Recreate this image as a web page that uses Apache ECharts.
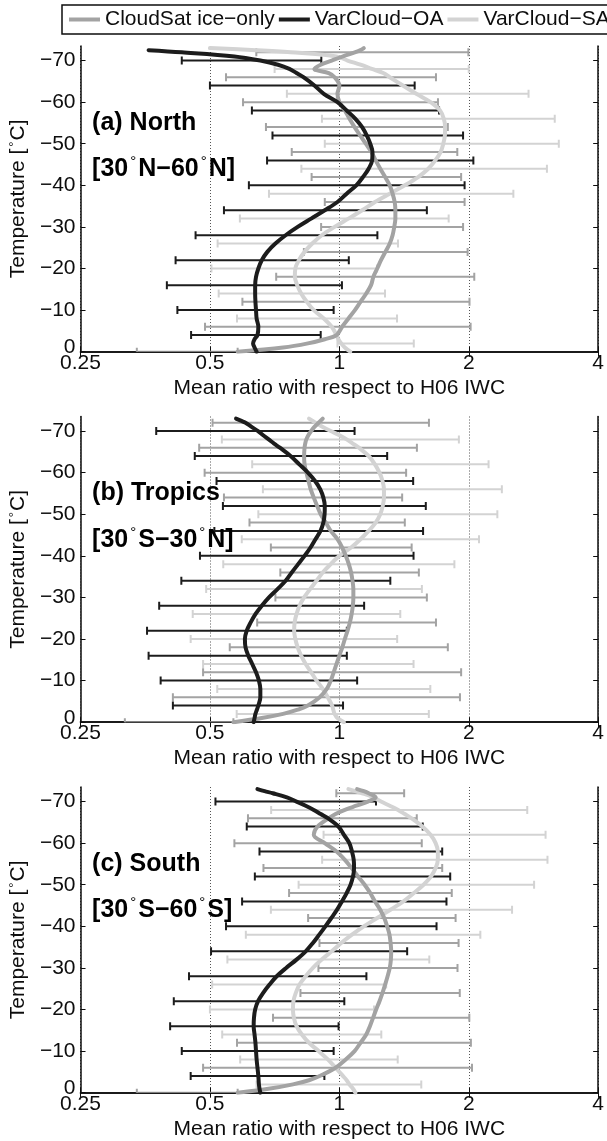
<!DOCTYPE html>
<html><head><meta charset="utf-8">
<script src="https://cdn.jsdelivr.net/npm/echarts@6/dist/echarts.min.js"></script>
<style>html,body{margin:0;padding:0;background:#fff;overflow:hidden}#c{width:607px;height:1141px}</style>
</head><body><div id="c"></div>
<script>
// ---------------- data ----------------
const seriesNames = ['CloudSat ice\u2212only', 'VarCloud\u2212OA', 'VarCloud\u2212SA'];
const panelTitles = ['(a) North', '(b) Tropics', '(c) South'];
const panelRegions = [['30', 'N', '60', 'N'], ['30', 'S', '30', 'N'], ['30', 'S', '60', 'S']];
const xTickValues = [0.25, 0.5, 1, 2, 4];
const yTickValues = [-70, -60, -50, -40, -30, -20, -10, 0];
const xAxisTitle = 'Mean ratio with respect to H06 IWC';
const yAxisTitle = 'Temperature [{s|\u00b0}C]';

const lineTemps = [-73, -72.5, -72, -71, -70, -69, -68, -67, -66,
  -64, -62, -60, -58, -56, -54, -52, -50, -48, -46, -44, -42, -40, -38, -36, -34, -32, -30, -28, -26,
  -24, -22, -20, -18, -16, -14, -12, -10, -8, -6, -4, -3, -2, -1, 0];

const northCloudSat = [1.14, 1.12, 1.09, 1.02, 0.96, 0.905, 0.875, 0.945, 0.975,
  1.0, 0.99, 1.0, 1.03, 1.056, 1.085, 1.118, 1.152, 1.188, 1.215, 1.245, 1.278, 1.31, 1.33, 1.345, 1.35, 1.35, 1.342, 1.33, 1.31,
  1.28, 1.25, 1.225, 1.2, 1.185, 1.155, 1.12, 1.087, 1.05, 1.015, 0.985, 0.925, 0.845, 0.74, 0.58];
const northOA = [null, 0.36, 0.43, 0.57, 0.655, 0.72, 0.765, 0.795, 0.825,
  0.875, 0.92, 0.99, 1.04, 1.09, 1.13, 1.158, 1.18, 1.194, 1.192, 1.17, 1.135, 1.095, 1.04, 0.99, 0.925, 0.86, 0.80, 0.75, 0.71,
  0.68, 0.66, 0.648, 0.64, 0.637, 0.637, 0.638, 0.64, 0.642, 0.648, 0.645, 0.635, 0.63, 0.635, 0.642];
const northSA = [0.50, 0.64, 0.77, 0.985, 1.045, 1.12, 1.19, 1.265, 1.31,
  1.405, 1.51, 1.63, 1.715, 1.75, 1.762, 1.76, 1.745, 1.72, 1.672, 1.61, 1.525, 1.42, 1.31, 1.21, 1.13, 1.05, 0.975, 0.91, 0.865,
  0.83, 0.805, 0.79, 0.788, 0.798, 0.815, 0.84, 0.872, 0.92, 0.96, 0.985, 0.995, 1.01, 1.03, 1.06];

const tropicsCloudSat = [0.915, 0.905, 0.895, 0.875, 0.86, 0.847, 0.838, 0.833, 0.83,
  0.828, 0.83, 0.838, 0.848, 0.858, 0.872, 0.888, 0.905, 0.93, 0.955, 0.99, 1.015, 1.035, 1.052, 1.065, 1.073, 1.078, 1.078, 1.075, 1.068,
  1.058, 1.045, 1.03, 1.016, 1.0, 0.985, 0.97, 0.955, 0.935, 0.9, 0.845, 0.8, 0.74, 0.66, 0.567];
const tropicsOA = [0.575, 0.59, 0.605, 0.625, 0.647, 0.665, 0.685, 0.705, 0.727,
  0.77, 0.807, 0.845, 0.878, 0.903, 0.918, 0.925, 0.924, 0.918, 0.904, 0.88, 0.857, 0.83, 0.802, 0.775, 0.75, 0.718, 0.686, 0.66, 0.638,
  0.622, 0.609, 0.603, 0.605, 0.614, 0.627, 0.64, 0.65, 0.655, 0.655, 0.648, 0.643, 0.638, 0.635, 0.632];
const tropicsSA = [0.85, 0.865, 0.88, 0.915, 0.955, 1.0, 1.04, 1.075, 1.11,
  1.17, 1.21, 1.24, 1.26, 1.27, 1.27, 1.262, 1.245, 1.215, 1.17, 1.12, 1.065, 1.0, 0.955, 0.915, 0.885, 0.855, 0.828, 0.808, 0.795,
  0.787, 0.785, 0.79, 0.8, 0.815, 0.835, 0.86, 0.885, 0.915, 0.94, 0.962, 0.968, 0.975, 0.99, 1.025];

const southCloudSat = [1.10, 1.14, 1.17, 1.215, 1.165, 1.095, 1.03, 0.98, 0.945,
  0.89, 0.872, 0.925, 0.985, 1.03, 1.068, 1.105, 1.145, 1.18, 1.21, 1.245, 1.272, 1.292, 1.308, 1.316, 1.32, 1.318, 1.31, 1.295, 1.278,
  1.26, 1.24, 1.218, 1.198, 1.178, 1.155, 1.12, 1.085, 1.035, 0.98, 0.9, 0.85, 0.78, 0.69, 0.58];
const southOA = [0.645, 0.67, 0.70, 0.755, 0.795, 0.835, 0.872, 0.905, 0.94,
  0.995, 1.025, 1.055, 1.07, 1.08, 1.082, 1.076, 1.062, 1.04, 1.014, 0.988, 0.958, 0.928, 0.898, 0.868, 0.835, 0.795, 0.752, 0.715, 0.688,
  0.665, 0.647, 0.637, 0.633, 0.632, 0.635, 0.638, 0.64, 0.642, 0.645, 0.648, 0.649, 0.65, 0.652, 0.655];
const southSA = [1.05, 1.09, 1.13, 1.20, 1.25, 1.31, 1.37, 1.42, 1.47,
  1.56, 1.63, 1.675, 1.695, 1.695, 1.675, 1.635, 1.57, 1.49, 1.41, 1.315, 1.225, 1.14, 1.07, 1.01, 0.96, 0.91, 0.868, 0.835, 0.808,
  0.792, 0.782, 0.78, 0.784, 0.795, 0.818, 0.85, 0.895, 0.94, 0.98, 1.02, 1.04, 1.055, 1.075, 1.09];

const csBarTemps = [-72, -66, -60, -54, -48, -42, -36, -30, -24, -18, -12, -6, 0];
const oaBarTemps = [-70, -64, -58, -52, -46, -40, -34, -28, -22, -16, -10, -4];
const saBarTemps = [-68, -62, -56, -50, -44, -38, -32, -26, -20, -14, -8, -2];

const northCloudSatLow  = [0.641, 0.545, 0.597, 0.675, 0.775, 0.862, 0.925, 0.907, 0.827, 0.713, 0.595, 0.487, 0.338];
const northCloudSatHigh = [1.996, 1.678, 1.696, 1.788, 1.881, 1.92, 1.956, 1.94, 1.988, 2.06, 2.008, 2.02, 0.58];
const northOALow  = [0.43, 0.5, 0.626, 0.699, 0.679, 0.616, 0.539, 0.463, 0.416, 0.397, 0.42, 0.452];
const northOAHigh = [0.908, 1.497, 1.706, 1.94, 2.05, 1.956, 1.598, 1.226, 1.052, 1.014, 0.97, 0.905];
const northSALow  = [0.707, 0.755, 0.911, 0.925, 0.816, 0.686, 0.587, 0.521, 0.504, 0.524, 0.578, 0.99];
const northSAHigh = [2.0, 2.755, 3.17, 3.24, 3.04, 2.54, 1.796, 1.369, 1.224, 1.277, 1.362, 1.49];

const tropicsCloudSatLow  = [0.507, 0.472, 0.486, 0.539, 0.618, 0.693, 0.729, 0.71, 0.644, 0.556, 0.482, 0.41, 0.317];
const tropicsCloudSatHigh = [1.616, 1.515, 1.43, 1.4, 1.42, 1.473, 1.531, 1.598, 1.678, 1.788, 1.92, 1.908, 0.567];
const tropicsOALow  = [0.375, 0.461, 0.518, 0.536, 0.512, 0.474, 0.429, 0.381, 0.357, 0.36, 0.384, 0.41];
const tropicsOAHigh = [1.085, 1.292, 1.485, 1.589, 1.566, 1.488, 1.314, 1.142, 1.041, 1.041, 1.1, 1.02];
const tropicsSALow  = [0.533, 0.627, 0.664, 0.648, 0.593, 0.537, 0.49, 0.456, 0.451, 0.482, 0.52, 0.577];
const tropicsSAHigh = [1.897, 2.224, 2.388, 2.331, 2.113, 1.852, 1.556, 1.386, 1.363, 1.488, 1.628, 1.615];

const southCloudSatLow  = [0.984, 0.613, 0.57, 0.666, 0.764, 0.846, 0.899, 0.894, 0.812, 0.701, 0.578, 0.482, 0.338];
const southCloudSatHigh = [1.415, 1.514, 1.555, 1.735, 1.826, 1.864, 1.894, 1.883, 1.906, 2.006, 2.023, 2.035, 0.58];
const southOALow  = [0.515, 0.609, 0.652, 0.636, 0.594, 0.545, 0.503, 0.447, 0.412, 0.404, 0.43, 0.451];
const southOAHigh = [1.217, 1.563, 1.735, 1.811, 1.775, 1.683, 1.438, 1.156, 1.027, 0.996, 0.97, 0.923];
const southSALow  = [0.694, 0.919, 0.912, 0.804, 0.693, 0.606, 0.549, 0.506, 0.5, 0.534, 0.588, 0.642];
const southSAHigh = [2.736, 3.018, 3.049, 2.838, 2.522, 2.128, 1.619, 1.285, 1.204, 1.252, 1.367, 1.551];

// ---------------- layout / style ----------------
const FONT = "'Liberation Sans', Arial, Helvetica, sans-serif";
const INK = '#0d0d0d';
const COLORS = ['#a3a3a3', '#1c1c1c', '#d3d3d3'];   // CloudSat, OA, SA
const GRID_LEFT = 74.5, GRID_WIDTH = 528, GRID_HEIGHT = 305.7;
const GRID_TOPS = [46, 416.5, 787];
const Y_MIN = -73.5, Y_MAX = 0;
const LABEL_X = 0.266, TITLE_T = -55, REGION_T = -43.8;
const TICK_FONT = 21;

const panels = [
  {lines: [northCloudSat, northOA, northSA],
   low: [northCloudSatLow, northOALow, northSALow], high: [northCloudSatHigh, northOAHigh, northSAHigh]},
  {lines: [tropicsCloudSat, tropicsOA, tropicsSA],
   low: [tropicsCloudSatLow, tropicsOALow, tropicsSALow], high: [tropicsCloudSatHigh, tropicsOAHigh, tropicsSAHigh]},
  {lines: [southCloudSat, southOA, southSA],
   low: [southCloudSatLow, southOALow, southSALow], high: [southCloudSatHigh, southOAHigh, southSAHigh]}
];
const barTemps = [csBarTemps, oaBarTemps, saBarTemps];

function fmtX(v) { return String(Math.round(v * 100) / 100); }
function fmtY(v) { return v === 0 ? '{z|0}' : '\u2212' + Math.abs(v); }

function renderErrorBar(params, api) {
  const a = api.coord([api.value(0), api.value(2)]);
  const b = api.coord([api.value(1), api.value(2)]);
  const cap = 4;
  const style = {stroke: api.visual('color'), lineWidth: 2, fill: null};
  return {type: 'group', children: [
    {type: 'line', shape: {x1: a[0], y1: a[1], x2: b[0], y2: b[1]}, style: style},
    {type: 'line', shape: {x1: a[0], y1: a[1] - cap, x2: a[0], y2: a[1] + cap}, style: style},
    {type: 'line', shape: {x1: b[0], y1: b[1] - cap, x2: b[0], y2: b[1] + cap}, style: style}
  ]};
}

const grids = [], xAxes = [], yAxes = [], series = [];
const axisLineStyle = {color: INK, width: 1.5};
GRID_TOPS.forEach(function (top, p) {
  grids.push({left: GRID_LEFT, top: top, width: GRID_WIDTH, height: GRID_HEIGHT, containLabel: false});
  xAxes.push({type: 'log', logBase: 2, gridIndex: p, min: 0.25, max: 4, position: 'bottom',
    name: xAxisTitle, nameLocation: 'middle', nameGap: 26,
    nameTextStyle: {fontFamily: FONT, fontSize: 21, color: INK},
    axisLine: {show: true, lineStyle: axisLineStyle},
    axisTick: {show: true, inside: true, length: 5, lineStyle: {color: INK, width: 1}},
    axisLabel: {show: true, margin: 1, formatter: fmtX, fontFamily: FONT, fontSize: TICK_FONT, color: INK, showMinLabel: true, showMaxLabel: true},
    splitLine: {show: true, lineStyle: {color: '#555', width: 1, type: [1, 2]}},
    minorTick: {show: false}});
  yAxes.push({type: 'value', gridIndex: p, min: Y_MIN, max: Y_MAX, inverse: true, position: 'left',
    name: yAxisTitle, nameLocation: 'middle', nameGap: 46, nameRotate: 90,
    nameTextStyle: {fontFamily: FONT, fontSize: 21, color: INK,
      rich: {s: {fontFamily: FONT, fontSize: 13, color: INK, verticalAlign: 'top', lineHeight: 12, padding: [0, 1, 0, 2]}}},
    axisLine: {show: true, onZero: false, lineStyle: axisLineStyle},
    axisTick: {show: true, inside: true, length: 5, customValues: yTickValues, lineStyle: {color: INK, width: 1}},
    axisLabel: {show: true, margin: 5, customValues: yTickValues, formatter: fmtY, fontFamily: FONT, fontSize: TICK_FONT, color: INK,
      rich: {z: {fontFamily: FONT, fontSize: TICK_FONT, color: INK, padding: [0, 0, 8, 0]}}},
    splitLine: {show: false}});
});
GRID_TOPS.forEach(function (top, p) {
  xAxes.push({type: 'log', logBase: 2, gridIndex: p, min: 0.25, max: 4, position: 'top',
    axisLine: {show: true, lineStyle: axisLineStyle},
    axisTick: {show: true, inside: true, length: 5, lineStyle: {color: INK, width: 1}},
    axisLabel: {show: false}, splitLine: {show: false}});
  yAxes.push({type: 'value', gridIndex: p, min: Y_MIN, max: Y_MAX, inverse: true, position: 'right',
    axisLine: {show: true, onZero: false, lineStyle: axisLineStyle},
    axisTick: {show: true, inside: true, length: 5, customValues: yTickValues, lineStyle: {color: INK, width: 1}},
    axisLabel: {show: false, customValues: yTickValues}, splitLine: {show: false}});
});

panels.forEach(function (panel, p) {
  [2, 0, 1].forEach(function (k) {
    const data = barTemps[k].map(function (t, i) { return [panel.low[k][i], panel.high[k][i], t]; });
    series.push({type: 'custom', name: seriesNames[k] + ' bars ' + p, xAxisIndex: p, yAxisIndex: p,
      renderItem: renderErrorBar, data: data, encode: {x: [0, 1], y: 2},
      itemStyle: {color: COLORS[k]}, z: 2, silent: true, clip: true});
  });
  [2, 0, 1].forEach(function (k) {
    const data = [];
    lineTemps.forEach(function (t, i) { if (panel.lines[k][i] != null) data.push([panel.lines[k][i], t]); });
    series.push({type: 'line', name: seriesNames[k], xAxisIndex: p, yAxisIndex: p, data: data,
      showSymbol: false, symbol: 'none', smooth: 0.35, z: 3, silent: true, clip: true,
      itemStyle: {color: COLORS[k]},
      lineStyle: {color: COLORS[k], width: 4, join: 'round', cap: 'round'}});
  });
});

const option = {
  backgroundColor: '#fff',
  animation: false,
  textStyle: {fontFamily: FONT},
  legend: {data: seriesNames, left: 62, top: 5, width: 900, orient: 'horizontal',
    icon: 'rect', itemWidth: 31, itemHeight: 4, itemGap: 4,
    padding: [4, 8, 4, 7], borderColor: INK, borderWidth: 1.5, backgroundColor: '#fff',
    selectedMode: false,
    textStyle: {fontFamily: FONT, fontSize: 21, color: INK}},
  grid: grids, xAxis: xAxes, yAxis: yAxes, series: series
};

const chart = echarts.init(document.getElementById('c'), null, {renderer: 'canvas', width: 607, height: 1141});
chart.setOption(option);

const rich = {
  b: {fontFamily: FONT, fontWeight: 'bold', fontSize: 25, lineHeight: 30, color: INK},
  s: {fontFamily: FONT, fontSize: 15, lineHeight: 13, color: INK, verticalAlign: 'top', padding: [0, 2, 0, 2]}
};
const graphics = [];
panels.forEach(function (panel, p) {
  const a = chart.convertToPixel({xAxisIndex: p, yAxisIndex: p}, [LABEL_X, TITLE_T]);
  const b = chart.convertToPixel({xAxisIndex: p, yAxisIndex: p}, [LABEL_X, REGION_T]);
  const r = panelRegions[p];
  graphics.push({type: 'text', x: a[0], y: a[1], z: 10, silent: true,
    style: {text: '{b|' + panelTitles[p] + '}', rich: rich, align: 'left', verticalAlign: 'middle'}});
  graphics.push({type: 'text', x: b[0], y: b[1], z: 10, silent: true,
    style: {text: '{b|[' + r[0] + '}{s|\u00b0}{b|' + r[1] + '\u2212' + r[2] + '}{s|\u00b0}{b|' + r[3] + ']}',
      rich: rich, align: 'left', verticalAlign: 'middle'}});
});
chart.setOption({graphic: graphics});
</script>
</body></html>
